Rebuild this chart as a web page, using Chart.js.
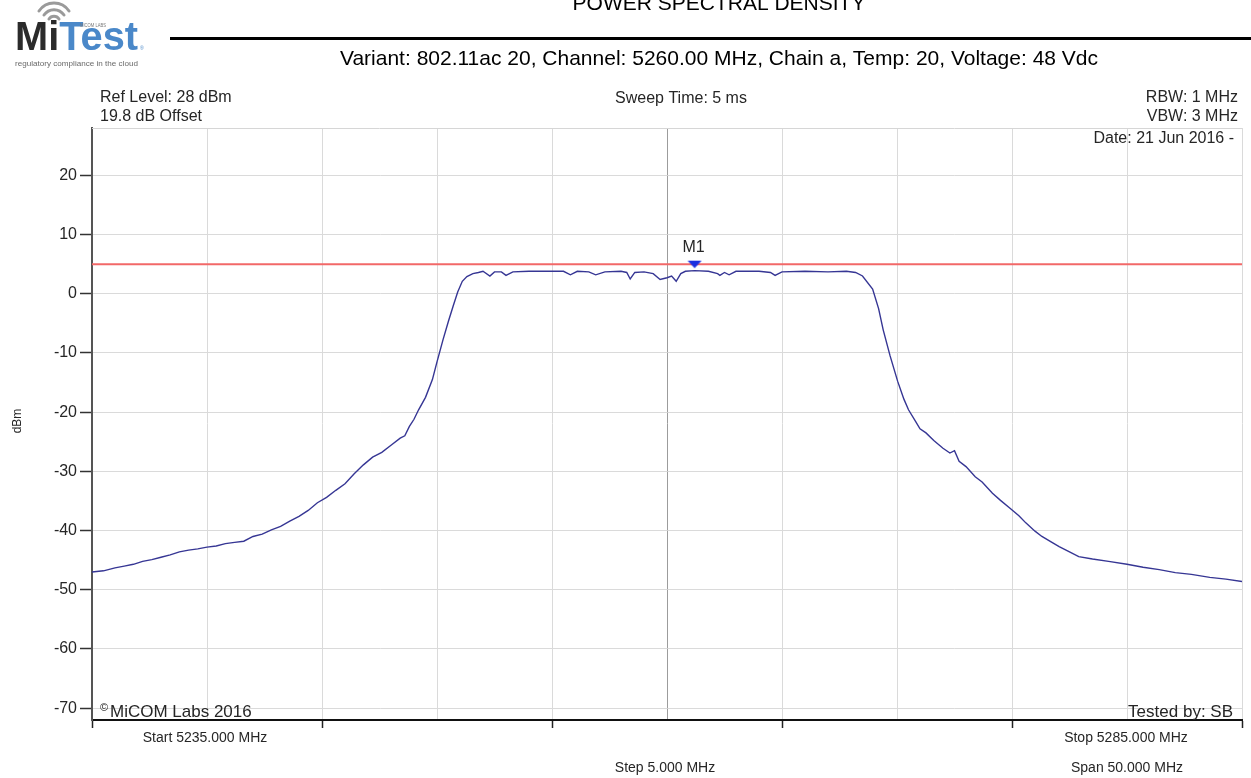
<!DOCTYPE html>
<html lang="en">
<head>
  <meta charset="UTF-8">
  <title>Power Spectral Density</title>
  <script src="https://cdn.jsdelivr.net/npm/chart.js@4.4.1/dist/chart.umd.min.js"></script>
  <style>
    html, body { margin: 0; padding: 0; background: #fff; }
    #main { position: relative; width: 1251px; height: 778px; overflow: hidden; }
    #psd { position: absolute; left: 0; top: 0; }
    #logo { position: absolute; left: 0; top: 0; }
  </style>
</head>
<body>
  <div id="main">
    <canvas id="psd" width="1251" height="778"></canvas>
    <!-- logo top left -->
    <svg id="logo" width="170" height="75">
      <g fill="none" stroke="#9a9a9a" stroke-width="3" stroke-linecap="round">
        <path d="M49 19 A6 6 0 0 1 59 19" />
        <path d="M44 15 A12 12 0 0 1 64 15" />
        <path d="M39 11 A18 18 0 0 1 69 11" />
      </g>
      <text x="15" y="50" font-family="Liberation Sans, Arial" font-weight="bold" font-size="40" textLength="123" lengthAdjust="spacingAndGlyphs"><tspan fill="#2b2b2b">Mi</tspan><tspan fill="#4a88c9">Test</tspan></text>
      <text x="80" y="27" font-family="Liberation Sans, Arial" font-size="5" fill="#777" textLength="26" lengthAdjust="spacingAndGlyphs">MICOM LABS</text>
      <text x="140" y="50" font-family="Liberation Sans, Arial" font-size="5" fill="#4a88c9">®</text>
      <text x="15" y="66" font-family="Liberation Sans, Arial" font-size="8" fill="#6a6a6a" textLength="123" lengthAdjust="spacingAndGlyphs">regulatory compliance in the cloud</text>
    </svg>
  </div>

  <script>
    // trace (MHz / dBm)
    const freqMHz = [
      5235.0, 5235.5, 5236.0, 5236.4, 5236.8, 5237.2, 5237.6, 5238.0, 5238.4, 5238.8,
      5239.2, 5239.6, 5240.0, 5240.4, 5240.8, 5241.2, 5241.6, 5242.0, 5242.4, 5242.8,
      5243.2, 5243.6, 5244.0, 5244.4, 5244.8, 5245.2, 5245.6, 5246.0, 5246.4, 5246.8,
      5247.2, 5247.6, 5248.0, 5248.4, 5248.6, 5248.8, 5249.0, 5249.2, 5249.5, 5249.8,
      5250.0, 5250.26, 5250.5, 5250.7, 5250.9, 5251.1, 5251.3, 5251.56, 5251.8, 5252.0,
      5252.3, 5252.5, 5252.8, 5253.0, 5253.3, 5254.0, 5254.8, 5255.5, 5255.8, 5256.1,
      5256.6, 5256.9, 5257.3, 5258.0, 5258.25, 5258.4, 5258.6, 5259.0, 5259.4, 5259.7,
      5260.0, 5260.2, 5260.4, 5260.6, 5260.8, 5261.2, 5261.8, 5262.2, 5262.3, 5262.5,
      5262.7, 5263.0, 5264.0, 5264.5, 5264.7, 5265.0, 5266.0, 5267.0, 5267.8, 5268.2,
      5268.5, 5268.94, 5269.2, 5269.4, 5269.7, 5270.03, 5270.3, 5270.5, 5270.8, 5271.0,
      5271.26, 5271.6, 5272.0, 5272.3, 5272.5, 5272.7, 5273.0, 5273.4, 5273.7, 5274.15,
      5274.5, 5274.9, 5275.3, 5275.6, 5276.0, 5276.3, 5276.7, 5277.05, 5277.5, 5277.9,
      5278.5, 5279.2, 5280.0, 5280.7, 5281.4, 5282.1, 5282.8, 5283.6, 5284.3, 5285.0
    ];
    const levelDbm = [
      -47.0, -46.8, -46.3, -46.0, -45.7, -45.2, -44.9, -44.5, -44.1, -43.6,
      -43.3, -43.1, -42.8, -42.6, -42.2, -42.0, -41.8, -41.0, -40.6, -39.9,
      -39.3, -38.4, -37.6, -36.6, -35.3, -34.4, -33.2, -32.1, -30.4, -28.9,
      -27.6, -26.8, -25.6, -24.4, -24.0, -22.4, -21.2, -19.6, -17.5, -14.5,
      -11.5, -7.8, -4.6, -2.1, 0.3, 2.1, 2.9, 3.4, 3.6, 3.8,
      3.0, 3.7, 3.7, 3.1, 3.7, 3.8, 3.8, 3.8, 3.2, 3.8,
      3.7, 3.2, 3.7, 3.8, 3.6, 2.5, 3.6, 3.7, 3.4, 2.4,
      2.7, 3.0, 2.1, 3.4, 3.8, 3.9, 3.8, 3.4, 3.1, 3.6,
      3.2, 3.8, 3.8, 3.6, 3.1, 3.7, 3.8, 3.7, 3.8, 3.6,
      3.0, 0.8, -2.5, -6.1, -10.5, -14.8, -17.8, -19.6, -21.5, -22.8,
      -23.5, -24.8, -26.1, -26.9, -26.5, -28.3, -29.2, -30.9, -31.8, -33.7,
      -34.9, -36.2, -37.5, -38.7, -40.1, -41.0, -41.9, -42.7, -43.6, -44.4,
      -44.8, -45.2, -45.7, -46.2, -46.6, -47.1, -47.4, -47.9, -48.2, -48.6
    ];

    // limit line and marker M1
    const limitFreq = [5235, 5285];
    const limitLevel = [5.0, 5.0];
    const markerFreq = [5261.2];
    const markerLevel = [3.9];
    const markerName = ['M1'];

    // axes
    const xStart = 5235, xStop = 5285, xStep = 5, xCenter = 5260;
    const yMin = -72, yMax = 28;
    const yTicks = [-70, -60, -50, -40, -30, -20, -10, 0, 10, 20];

    // texts around the plot
    const chartTitle = 'POWER SPECTRAL DENSITY';
    const subTitle = 'Variant: 802.11ac 20, Channel: 5260.00 MHz, Chain a, Temp: 20, Voltage: 48 Vdc';
    const headLeft = ['Ref Level: 28 dBm', '19.8 dB Offset'];
    const headMid = 'Sweep Time: 5 ms';
    const headRight = ['RBW: 1 MHz', 'VBW: 3 MHz', 'Date: 21 Jun 2016 -'];
    const footLeft = ['Start 5235.000 MHz'];
    const footMid = ['Step 5.000 MHz'];
    const footRight = ['Stop 5285.000 MHz', 'Span 50.000 MHz'];
    const yTitle = 'dBm';

    const FONT = '"Liberation Sans", Arial, sans-serif';

    // flat downward triangle for the marker
    const tri = document.createElement('canvas');
    tri.width = 16; tri.height = 22;
    const tctx = tri.getContext('2d');
    tctx.fillStyle = '#1a2fe0';
    tctx.beginPath();
    tctx.moveTo(1, 1); tctx.lineTo(15, 1); tctx.lineTo(8, 8.5);
    tctx.closePath(); tctx.fill();

    const traceData = freqMHz.map((f, i) => ({ x: f, y: levelDbm[i] }));
    const limitData = limitFreq.map((f, i) => ({ x: f, y: limitLevel[i] }));
    const markerData = markerFreq.map((f, i) => ({ x: f, y: markerLevel[i] }));

    function txt(ctx, s, x, y, size, align, color) {
      ctx.font = size + 'px ' + FONT;
      ctx.textAlign = align;
      ctx.textBaseline = 'alphabetic';
      ctx.fillStyle = color || '#262626';
      ctx.fillText(s, x, y);
    }

    const frame = {
      id: 'frame',
      beforeDatasetsDraw(chart) {
        const { ctx, chartArea } = chart;
        ctx.save();
        ctx.strokeStyle = '#d6d6d6';
        ctx.lineWidth = 1;
        ctx.beginPath();
        ctx.moveTo(chartArea.left, chartArea.top + 0.5);
        ctx.lineTo(chartArea.right, chartArea.top + 0.5);
        ctx.stroke();
        ctx.restore();
      },
      afterDraw(chart) {
        const ctx = chart.ctx;
        const xs = chart.scales.x, ys = chart.scales.y;
        ctx.save();
        txt(ctx, chartTitle, 719, 10, 21, 'center', '#000');
        ctx.fillStyle = '#000';
        ctx.fillRect(170, 37, 1081, 3);
        txt(ctx, subTitle, 719, 65, 21, 'center', '#000');

        txt(ctx, headLeft[0], 100, 102, 16, 'left');
        txt(ctx, headLeft[1], 100, 121, 16, 'left');
        txt(ctx, headMid, 681, 103, 16, 'center');
        txt(ctx, headRight[0], 1238, 102, 16, 'right');
        txt(ctx, headRight[1], 1238, 121, 16, 'right');
        txt(ctx, headRight[2], 1234, 143, 16, 'right');

        // copyright + tester
        txt(ctx, '©', 100, 711, 11, 'left');
        txt(ctx, 'MiCOM Labs 2016', 110, 717, 17, 'left');
        txt(ctx, 'Tested by: SB', 1233, 717, 17, 'right');

        txt(ctx, footLeft[0], 205, 742, 14, 'center');
        txt(ctx, footRight[0], 1126, 742, 14, 'center');
        txt(ctx, footMid[0], 665, 772, 14, 'center');
        txt(ctx, footRight[1], 1127, 772, 14, 'center');

        // marker label
        const mx = xs.getPixelForValue(markerFreq[0]);
        const my = ys.getPixelForValue(markerLevel[0]);
        txt(ctx, markerName[0], mx - 1, my - 19, 16, 'center');

        // y axis title
        ctx.translate(21, 421);
        ctx.rotate(-Math.PI / 2);
        txt(ctx, yTitle, 0, 0, 12, 'center');
        ctx.restore();
      }
    };

    new Chart(document.getElementById('psd'), {
      type: 'scatter',
      data: {
        datasets: [
          {
            data: markerData,
            pointStyle: tri,
            pointRadius: 8,
            showLine: false
          },
          {
            data: traceData,
            showLine: true,
            borderColor: '#363694',
            borderWidth: 1.4,
            pointRadius: 0,
            tension: 0
          },
          {
            data: limitData,
            showLine: true,
            borderColor: '#f26868',
            borderWidth: 2,
            pointRadius: 0
          }
        ]
      },
      options: {
        responsive: false,
        animation: false,
        devicePixelRatio: 1,
        layout: { padding: { left: 0, top: 128, right: 8, bottom: 0 } },
        plugins: { legend: { display: false }, tooltip: { enabled: false } },
        scales: {
          x: {
            type: 'linear',
            min: xStart,
            max: xStop,
            ticks: { stepSize: xStep, display: false },
            grid: {
              color: ctx => (ctx.tick && ctx.tick.value === xCenter) ? '#9c9c9c' : '#dadada',
              lineWidth: 1,
              drawTicks: true,
              tickLength: 8,
              tickWidth: 1.5,
              tickColor: ctx => (ctx.tick && (ctx.tick.value - xStart) % 10 === 0) ? '#222' : 'rgba(0,0,0,0)'
            },
            border: { display: true, color: '#111', width: 2 },
            afterFit: s => { s.height = 58; }
          },
          y: {
            min: yMin,
            max: yMax,
            afterBuildTicks: s => { s.ticks = yTicks.map(v => ({ value: v })); },
            ticks: {
              color: '#262626',
              font: { family: FONT, size: 16 },
              padding: 3
            },
            grid: {
              color: '#dadada',
              lineWidth: 1,
              drawTicks: true,
              tickLength: 12,
              tickWidth: 1.5,
              tickColor: '#333'
            },
            border: { display: true, color: '#555', width: 2 },
            afterFit: s => { s.width = 92; }
          }
        }
      },
      plugins: [frame]
    });
  </script>
</body>
</html>
